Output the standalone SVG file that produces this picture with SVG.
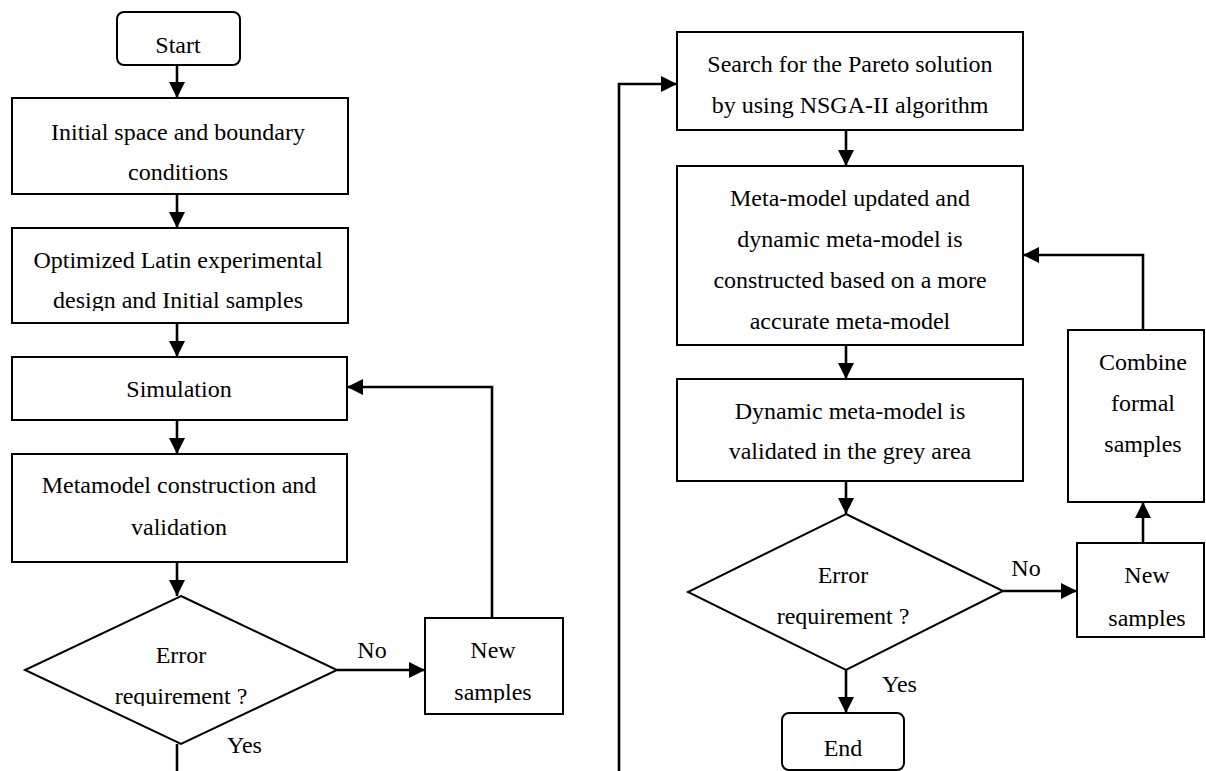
<svg xmlns="http://www.w3.org/2000/svg" width="1206" height="771" viewBox="0 0 1206 771">
<style>
.b{fill:#fff;stroke:#000;stroke-width:2}
.c{fill:none;stroke:#000;stroke-width:2.6}
text{font-family:"Liberation Serif","Times New Roman",serif;font-size:24px;fill:#000;text-anchor:middle}
.l{text-anchor:start}
</style>
<defs>
<marker id="ah" markerUnits="userSpaceOnUse" markerWidth="16" markerHeight="16" viewBox="0 0 16 16" refX="16" refY="8" orient="auto">
<path d="M0,0 L16,8 L0,16 Z" fill="#000"/>
</marker>
<clipPath id="clipDesign"><rect x="12" y="288" width="336" height="23"/></clipPath>
<clipPath id="clipReqL"><rect x="25" y="680" width="312" height="26"/></clipPath>
<clipPath id="clipNewL"><rect x="425" y="675" width="138" height="28"/></clipPath>
<clipPath id="clipNewR"><rect x="1077" y="600" width="129" height="29"/></clipPath>
</defs>
<rect width="1206" height="771" fill="#fff"/>
<g id="connectors">
<path class="c" d="M177,65 V98" marker-end="url(#ah)"/>
<path class="c" d="M177,194 V228" marker-end="url(#ah)"/>
<path class="c" d="M177,323 V357" marker-end="url(#ah)"/>
<path class="c" d="M177,420 V454" marker-end="url(#ah)"/>
<path class="c" d="M177,562 V596" marker-end="url(#ah)"/>
<path class="c" d="M337,670 H425" marker-end="url(#ah)"/>
<path class="c" d="M492,618 V387 H347" marker-end="url(#ah)"/>
<path class="c" d="M177,744 V771"/>
<path class="c" d="M619,771 V84 H677" marker-end="url(#ah)"/>
<path class="c" d="M846,130 V166" marker-end="url(#ah)"/>
<path class="c" d="M846,345 V379" marker-end="url(#ah)"/>
<path class="c" d="M846,481 V514" marker-end="url(#ah)"/>
<path class="c" d="M846,670 V713" marker-end="url(#ah)"/>
<path class="c" d="M1003,591 H1077" marker-end="url(#ah)"/>
<path class="c" d="M1143,543 V502" marker-end="url(#ah)"/>
<path class="c" d="M1143,330 V255 H1023" marker-end="url(#ah)"/>
<text x="372" y="658">No</text>
<text class="l" x="227" y="753">Yes</text>
<text x="1026" y="576">No</text>
<text class="l" x="882" y="692">Yes</text>
</g>
<g id="start">
<rect class="b" x="117" y="12" width="123" height="53" rx="7"/>
<text x="178" y="53">Start</text>
</g>
<g id="initial">
<rect class="b" x="12" y="98" width="336" height="96"/>
<text x="178" y="140">Initial space and boundary</text>
<text x="178" y="180">conditions</text>
</g>
<g id="latin">
<rect class="b" x="12" y="228" width="336" height="95"/>
<text x="178" y="268">Optimized Latin experimental</text>
<text x="178" y="308" clip-path="url(#clipDesign)">design and Initial samples</text>
</g>
<g id="simulation">
<rect class="b" x="12" y="357" width="335" height="63"/>
<text x="179" y="397">Simulation</text>
</g>
<g id="metamodel">
<rect class="b" x="12" y="454" width="335" height="108"/>
<text x="179" y="493">Metamodel construction and</text>
<text x="179" y="535">validation</text>
</g>
<g id="decision-left">
<polygon class="b" points="181,596 337,670 181,744 25,670"/>
<text x="181" y="663">Error</text>
<text x="181" y="704" clip-path="url(#clipReqL)">requirement ?</text>
</g>
<g id="new-samples-left">
<rect class="b" x="425" y="618" width="138" height="96"/>
<text x="493" y="658">New</text>
<text x="493" y="700" clip-path="url(#clipNewL)">samples</text>
</g>
<g id="search">
<rect class="b" x="677" y="32" width="346" height="98"/>
<text x="850" y="72">Search for the Pareto solution</text>
<text x="850" y="113">by using NSGA-II algorithm</text>
</g>
<g id="meta-updated">
<rect class="b" x="677" y="166" width="346" height="179"/>
<text x="850" y="206">Meta-model updated and</text>
<text x="850" y="247">dynamic meta-model is</text>
<text x="850" y="288">constructed based on a more</text>
<text x="850" y="329">accurate meta-model</text>
</g>
<g id="dynamic">
<rect class="b" x="677" y="379" width="346" height="102"/>
<text x="850" y="419">Dynamic meta-model is</text>
<text x="850" y="459">validated in the grey area</text>
</g>
<g id="decision-right">
<polygon class="b" points="846,514 1003,591 846,670 688,592"/>
<text x="843" y="583">Error</text>
<text x="843" y="624">requirement ?</text>
</g>
<g id="end">
<rect class="b" x="782" y="713" width="122" height="57" rx="7"/>
<text x="843" y="756">End</text>
</g>
<g id="combine">
<rect class="b" x="1068" y="330" width="136" height="172"/>
<text x="1143" y="370">Combine</text>
<text x="1143" y="411">formal</text>
<text x="1143" y="452">samples</text>
</g>
<g id="new-samples-right">
<rect class="b" x="1077" y="543" width="127" height="94"/>
<text x="1147" y="583">New</text>
<text x="1147" y="626" clip-path="url(#clipNewR)">samples</text>
</g>
</svg>
